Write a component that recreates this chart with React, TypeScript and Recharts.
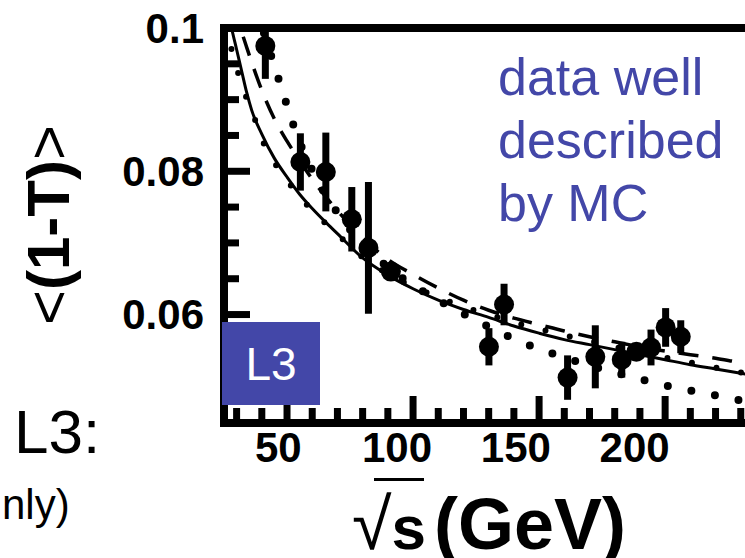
import React from "react";
import { ComposedChart, Line, Scatter, ErrorBar, XAxis, YAxis } from "recharts";

// L3 data points: sqrt(s) in GeV, <1-T> and its error (low, high)
const sqrtS = [41.4, 55.3, 65.4, 75.7, 82.3, 91.2, 130.1, 136.1, 161.3, 172.3, 182.8, 188.6, 194.4, 200.2, 206.2];
const meanThrust = [0.0975, 0.0813, 0.0799, 0.0733, 0.0693, 0.066, 0.0555, 0.0614, 0.0512, 0.0541, 0.0537, 0.0548, 0.0554, 0.0582, 0.0569];
const errLow = [0.0046, 0.004, 0.0055, 0.0045, 0.0092, 0.0008, 0.0026, 0.0029, 0.0031, 0.0044, 0.0025, 0.0012, 0.0025, 0.0027, 0.0023];
const errHigh = [0.0025, 0.004, 0.0055, 0.0045, 0.0092, 0.0008, 0.0026, 0.0029, 0.0031, 0.0044, 0.0025, 0.0012, 0.0025, 0.0027, 0.0023];

// MC predictions
const mcEnergy = [26, 28, 30, 32, 34, 36, 40, 45, 50, 55, 60, 65, 70, 80, 90, 100, 110, 120, 130, 140, 150, 160, 170, 180, 190, 200, 210, 220, 230, 242];
const mcSolid = [0.1035, 0.1, 0.097, 0.094, 0.091, 0.0885, 0.0852, 0.0818, 0.0792, 0.0768, 0.0748, 0.073, 0.0713, 0.0679, 0.0655, 0.0636, 0.062, 0.0607, 0.0596, 0.0584, 0.0574, 0.0565, 0.0558, 0.0551, 0.0544, 0.0537, 0.053, 0.0524, 0.0518, 0.0511];
const mcDashed = [0.108, 0.1055, 0.102, 0.0995, 0.0973, 0.0952, 0.0913, 0.0873, 0.0842, 0.0815, 0.0789, 0.0766, 0.0745, 0.0707, 0.0677, 0.0656, 0.0637, 0.062, 0.0606, 0.0595, 0.0586, 0.0577, 0.0569, 0.0562, 0.0555, 0.0549, 0.0544, 0.0539, 0.0533, 0.0527];
const mcDotted = [0.1005, 0.097, 0.0945, 0.092, 0.0902, 0.0885, 0.0845, 0.0812, 0.0787, 0.0765, 0.0745, 0.0728, 0.0712, 0.068, 0.0657, 0.0639, 0.0624, 0.0611, 0.06, 0.0589, 0.058, 0.0571, 0.0563, 0.0555, 0.0547, 0.054, 0.0533, 0.0526, 0.0519, 0.0512];
const mcBigDotEnergy = [38, 42, 46, 49, 52, 56, 62, 70, 80, 90, 100, 110, 120, 130, 140, 150, 160, 170, 180, 190, 200, 210, 220, 230, 242];
const mcBigDot = [0.1025, 0.098, 0.0936, 0.0903, 0.087, 0.0832, 0.0788, 0.0742, 0.0699, 0.0666, 0.0641, 0.062, 0.0601, 0.0583, 0.0566, 0.0552, 0.054, 0.0529, 0.0519, 0.051, 0.0501, 0.0494, 0.0487, 0.048, 0.0472];

const xTicks = [50, 100, 150, 200];
const xMinorTicks = [30, 40, 60, 70, 80, 90, 110, 120, 130, 140, 160, 170, 180, 190, 210, 220, 230, 240];
const yTicks = [0.06, 0.08, 0.1];
const yTickLabels = ["0.06", "0.08", "0.1"];
const yMinorTicks = [0.05, 0.055, 0.065, 0.07, 0.075, 0.085, 0.09, 0.095];

const FONT = "'Liberation Sans', Arial, sans-serif";
const BLUE = "#4347a8";
const X_DOMAIN: [number, number] = [25, 242];
// the printed x labels sit slightly off the tick marks in the original
const X_LABEL_DOMAIN: [number, number] = [27.15, 257.4];
const Y_DOMAIN: [number, number] = [0.045, 0.1];

const points = sqrtS.map((e, i) => ({ e, t: meanThrust[i], err: [errLow[i], errHigh[i]] }));
const curve = (ys: number[]) => mcEnergy.map((e, i) => ({ e, t: ys[i] }));
const bigDots = mcBigDotEnergy.map((e, i) => ({ e, t: mcBigDot[i] }));
// bottom frame tick marks, placed on the lower edge of the plot through the x scale
const xTickMarks = [...xMinorTicks, ...xTicks].map((e) => ({ e, t: Y_DOMAIN[0], major: xTicks.includes(e) }));

const frame = { stroke: "#000", strokeWidth: 8, strokeLinecap: "square" as const };
const tickStroke = { stroke: "#000", strokeWidth: 7 };
const labelFont = { fill: "#000", fontSize: 42, fontWeight: 700, fontFamily: FONT };
const noLabel = () => <g />;

const Dot = (props: any) => <circle cx={props.cx} cy={props.cy} r={10} fill="#000" />;
const TickMark = (p: any) => (
  <line x1={p.cx} x2={p.cx} y1={p.cy} y2={p.cy - (p.payload?.major ? 26 : 14)} stroke="#000" strokeWidth={7} />
);

export default function App() {
  return (
    <div style={{ position: "absolute", left: 0, top: 0, width: 745, height: 558, overflow: "hidden", background: "#fff", fontFamily: FONT }}>
      <ComposedChart width={800} height={558} margin={{ top: 27, right: 29, bottom: 134, left: 223 }}>
        {/* frame, ticks and labels */}
        <XAxis xAxisId="x" type="number" dataKey="e" domain={X_DOMAIN} allowDataOverflow height={1}
          axisLine={frame} tick={false} tickLine={false} />
        <XAxis xAxisId="lbl" type="number" dataKey="e" domain={X_LABEL_DOMAIN} allowDataOverflow ticks={xTicks} height={1}
          axisLine={false} tickLine={false} tickSize={0} tickMargin={10} tick={labelFont} />
        <XAxis xAxisId="top" orientation="top" type="number" domain={X_DOMAIN} allowDataOverflow height={1}
          axisLine={frame} tick={false} tickLine={false} />
        <YAxis yAxisId="y" type="number" domain={Y_DOMAIN} allowDataOverflow ticks={yTicks} width={1}
          axisLine={frame} tickLine={false} tickSize={0} tickMargin={20}
          tickFormatter={(v: number) => yTickLabels[yTicks.indexOf(v)]} tick={labelFont} />
        <YAxis yAxisId="yminor" type="number" domain={Y_DOMAIN} allowDataOverflow ticks={yMinorTicks} width={1}
          mirror axisLine={false} tick={noLabel} tickLine={tickStroke} tickSize={14} />
        <YAxis yAxisId="ymajor" type="number" domain={Y_DOMAIN} allowDataOverflow ticks={yTicks} width={1}
          mirror axisLine={false} tick={noLabel} tickLine={tickStroke} tickSize={26} />

        {/* invisible series so the label axis gets registered */}
        <Line xAxisId="lbl" yAxisId="y" data={curve(mcSolid)} dataKey="t" stroke="none" dot={false} activeDot={false}
          legendType="none" isAnimationActive={false} />

        {/* bottom tick marks */}
        <Scatter xAxisId="x" yAxisId="y" data={xTickMarks} dataKey="t" shape={TickMark} legendType="none" isAnimationActive={false} />

        {/* MC curves */}
        <Line xAxisId="x" yAxisId="y" data={curve(mcSolid)} dataKey="t" type="monotone" stroke="#000" strokeWidth={3}
          dot={false} isAnimationActive={false} />
        <Line xAxisId="x" yAxisId="y" data={curve(mcDashed)} dataKey="t" type="monotone" stroke="#000" strokeWidth={3.5}
          strokeDasharray="20 14" dot={false} isAnimationActive={false} />
        <Line xAxisId="x" yAxisId="y" data={curve(mcDotted)} dataKey="t" type="monotone" stroke="#000" strokeWidth={6}
          strokeDasharray="0 25" strokeLinecap="round" dot={false} isAnimationActive={false} />
        <Line xAxisId="x" yAxisId="y" data={bigDots} dataKey="t" type="monotone" stroke="#000" strokeWidth={8}
          strokeDasharray="0 24" strokeLinecap="round" dot={false} isAnimationActive={false} />

        {/* data */}
        <Scatter xAxisId="x" yAxisId="y" data={points} dataKey="t" shape={Dot} isAnimationActive={false}>
          <ErrorBar dataKey="err" direction="y" width={0} stroke="#000" strokeWidth={7} isAnimationActive={false} />
        </Scatter>
      </ComposedChart>

      {/* y-axis title */}
      <div style={{ position: "absolute", left: 49, top: 225, transform: "translate(-50%, -50%) rotate(-90deg)", whiteSpace: "nowrap", fontSize: 60, fontWeight: 700, lineHeight: 1 }}>
        <span style={{ fontWeight: 400 }}>&lt;</span>(1-T)<span style={{ fontWeight: 400 }}>&gt;</span>
      </div>

      {/* x-axis title */}
      <div style={{ position: "absolute", left: 352, top: 483, display: "flex", alignItems: "baseline", whiteSpace: "nowrap", fontWeight: 700 }}>
        <span style={{ fontSize: 72, fontWeight: 400 }}>√</span>
        <span style={{ fontSize: 62 }}>s</span>
        <span style={{ fontSize: 72, marginLeft: 8 }}>(GeV)</span>
      </div>
      <div style={{ position: "absolute", left: 374, top: 478, width: 50, height: 3, background: "#000" }} />

      {/* annotations */}
      <div style={{ position: "absolute", left: 222, top: 322, width: 98, height: 83, background: BLUE, color: "#fff", fontSize: 46, display: "flex", alignItems: "center", justifyContent: "center" }}>
        L3
      </div>
      <div style={{ position: "absolute", left: 498, top: 46, color: BLUE, fontSize: 52, lineHeight: "63px" }}>
        data well<br />described<br />by MC
      </div>
      <div style={{ position: "absolute", left: 14, top: 401, fontSize: 62, lineHeight: 1 }}>L3:</div>
      <div style={{ position: "absolute", left: 2, top: 484, fontSize: 42, lineHeight: 1 }}>nly)</div>
    </div>
  );
}
